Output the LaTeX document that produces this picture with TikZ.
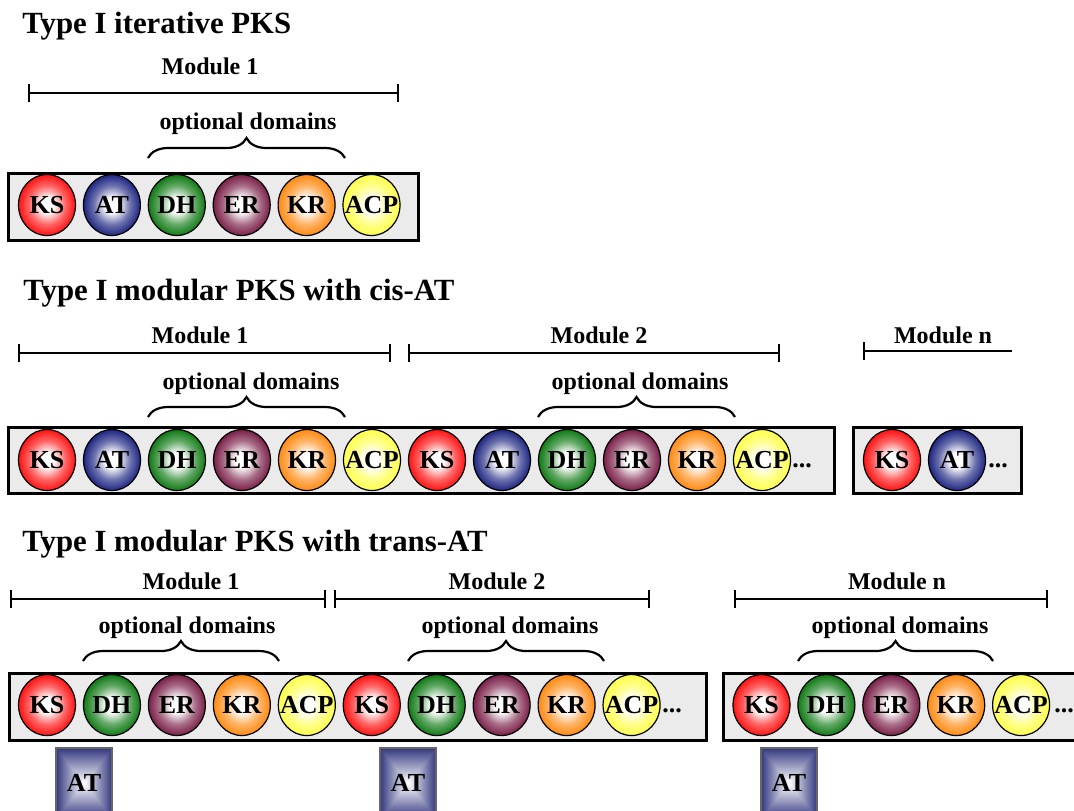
\documentclass[tikz,border=0pt]{standalone}
\usepackage{fontspec}
\setmainfont{Liberation Serif}
\usepackage{tikz}
\usetikzlibrary{arrows.meta, positioning, shapes.geometric, decorations.pathreplacing}
\definecolor{ksred}{HTML}{FF1212}
\definecolor{atblue}{HTML}{1E2682}
\definecolor{dhgreen}{HTML}{0F7A14}
\definecolor{ermaroon}{HTML}{7A1F48}
\definecolor{krorange}{HTML}{FF8A12}
\definecolor{acpyellow}{HTML}{FFFF4C}
\definecolor{boxgray}{HTML}{EBEBEB}
\colorlet{domcol}{ksred}
\newcommand{\domfont}{\fontsize{13}{15}\selectfont\bfseries}
\newcommand{\lblfont}{\fontsize{12}{14}\selectfont\bfseries}
\newcommand{\headfont}{\fontsize{15.4}{18}\selectfont\bfseries}
\pgfdeclareradialshading[domcol]{domball}{\pgfpointorigin}{color(0bp)=(white); color(6bp)=(white); color(16bp)=(domcol!65!white); color(25bp)=(domcol); color(50bp)=(domcol)}
\pgfdeclarefunctionalshading{atframe}{\pgfpoint{-50bp}{-50bp}}{\pgfpoint{50bp}{50bp}}{}{
  abs exch abs 2 copy lt {exch} if pop 25 div dup 1 gt {pop 1} if
  dup 0.8 mul 1 exch sub exch dup 0.78 mul 1 exch sub exch 0.5 mul 1 exch sub}

\begin{document}
\begin{tikzpicture}[x=0.5pt, y=-0.5pt,
  dom/.style={ellipse, draw=black, line width=0.6pt, inner sep=0pt,
    minimum width=28.5pt, minimum height=30.5pt, font=\domfont,
    /utils/exec={\colorlet{domcol}{#1}}, shade, shading=domball},
  atbox/.style={rectangle, draw=black!60, line width=0.8pt, inner sep=0pt,
    minimum width=28pt, minimum height=35pt, font=\domfont, shade, shading=atframe},
  modbox/.style={draw=black, line width=1.5pt, fill=boxgray},
  modspan/.style={line width=1.2pt, {Bar[width=9pt]}-{Bar[width=9pt]}},
  openspan/.style={line width=1.2pt, {Bar[width=9pt]}-},
  optbrace/.style={line width=1.1pt, decorate, decoration={brace, amplitude=10pt}},
  pkstitle/.style={font=\headfont, anchor=base west, inner sep=0pt},
  lbl/.style={font=\lblfont, anchor=base, inner sep=0pt},
  more/.style={font=\domfont, anchor=base west, inner sep=0pt}]
\useasboundingbox (0,0) rectangle (1074,810);
\clip (0,0) rectangle (1074,810);

% Type I iterative PKS
\node[pkstitle] (head1) at (22,33) {Type I iterative PKS};
\node[lbl] (mod1a) at (210,74) {Module 1};
\coordinate (s1a) at (28,93);
\coordinate (e1a) at (399,93);
\draw[modspan] (s1a) -- (e1a);
\node[lbl] (opt1a) at (248,129) {optional domains};
\coordinate (bs1a) at (148,158);
\coordinate (be1a) at (345,158);
\draw[optbrace] (bs1a) -- (be1a);
\draw[modbox] (8,173) rectangle (418,240);
\foreach \n/\c [count=\i] in {KS/ksred, AT/atblue, DH/dhgreen, ER/ermaroon, KR/krorange, ACP/acpyellow}
  \node[dom=\c] (it\i) at ({47+64.9*(\i-1)},205) {\makebox[0pt]{\n}};

% Type I modular PKS with cis-AT
\node[pkstitle] (head2) at (23,300) {Type I modular PKS with cis-AT};
\node[lbl] (mod2a) at (200,343) {Module 1};
\node[lbl] (mod2b) at (599,343) {Module 2};
\node[lbl] (mod2n) at (943,343) {Module n};
\coordinate (s2a) at (18,353);
\coordinate (e2a) at (391,353);
\coordinate (s2b) at (408,353);
\coordinate (e2b) at (780,353);
\coordinate (s2n) at (863,351);
\coordinate (e2n) at (1012,351);
\draw[modspan] (s2a) -- (e2a);
\draw[modspan] (s2b) -- (e2b);
\draw[openspan] (s2n) -- (e2n);
\node[lbl] (opt2a) at (251,389) {optional domains};
\node[lbl] (opt2b) at (640,389) {optional domains};
\coordinate (bs2a) at (148,417);
\coordinate (be2a) at (345,417);
\coordinate (bs2b) at (538,417);
\coordinate (be2b) at (735,417);
\draw[optbrace] (bs2a) -- (be2a);
\draw[optbrace] (bs2b) -- (be2b);
\draw[modbox] (8,427) rectangle (834,493);
\draw[modbox] (853,427) rectangle (1021,493);
\foreach \n/\c [count=\i] in {KS/ksred, AT/atblue, DH/dhgreen, ER/ermaroon, KR/krorange, ACP/acpyellow,
    KS/ksred, AT/atblue, DH/dhgreen, ER/ermaroon, KR/krorange, ACP/acpyellow}
  \node[dom=\c] (cis\i) at ({47+65*(\i-1)},460) {\makebox[0pt]{\n}};
\node[more] (dots2a) at (792,467) {...};
\node[dom=ksred] (cisn1) at (892,460) {KS};
\node[dom=atblue] (cisn2) at (957,460) {AT};
\node[more] (dots2n) at (988,467) {...};

% Type I modular PKS with trans-AT
\node[pkstitle] (head3) at (22,551) {Type I modular PKS with trans-AT};
\node[lbl] (mod3a) at (191,589) {Module 1};
\node[lbl] (mod3b) at (497,589) {Module 2};
\node[lbl] (mod3n) at (897,589) {Module n};
\coordinate (s3a) at (10,599);
\coordinate (e3a) at (326,599);
\coordinate (s3b) at (334,599);
\coordinate (e3b) at (650,599);
\coordinate (s3n) at (734,599);
\coordinate (e3n) at (1048,599);
\draw[modspan] (s3a) -- (e3a);
\draw[modspan] (s3b) -- (e3b);
\draw[modspan] (s3n) -- (e3n);
\node[lbl] (opt3a) at (187,633) {optional domains};
\node[lbl] (opt3b) at (510,633) {optional domains};
\node[lbl] (opt3n) at (900,633) {optional domains};
\coordinate (bs3a) at (83,661);
\coordinate (be3a) at (279,661);
\coordinate (bs3b) at (408,661);
\coordinate (be3b) at (604,661);
\coordinate (bs3n) at (798,661);
\coordinate (be3n) at (993,661);
\draw[optbrace] (bs3a) -- (be3a);
\draw[optbrace] (bs3b) -- (be3b);
\draw[optbrace] (bs3n) -- (be3n);
\draw[modbox] (9,673) rectangle (706,740);
\draw[modbox] (723,673) rectangle (1090,740);
\foreach \n/\c [count=\i] in {KS/ksred, DH/dhgreen, ER/ermaroon, KR/krorange, ACP/acpyellow,
    KS/ksred, DH/dhgreen, ER/ermaroon, KR/krorange, ACP/acpyellow}
  \node[dom=\c] (trans\i) at ({47+64.95*(\i-1)},705) {\makebox[0pt]{\n}};
\node[more] (dots3a) at (662,712) {...};
\foreach \n/\c [count=\i] in {KS/ksred, DH/dhgreen, ER/ermaroon, KR/krorange, ACP/acpyellow}
  \node[dom=\c] (transn\i) at ({761.5+64.9*(\i-1)},705) {\makebox[0pt]{\n}};
\node[more] (dots3n) at (1054,712) {...};
\node[atbox] (at1) at (84,783) {AT};
\node[atbox] (at2) at (408,783) {AT};
\node[atbox] (at3) at (789,783) {AT};
\end{tikzpicture}
\end{document}
